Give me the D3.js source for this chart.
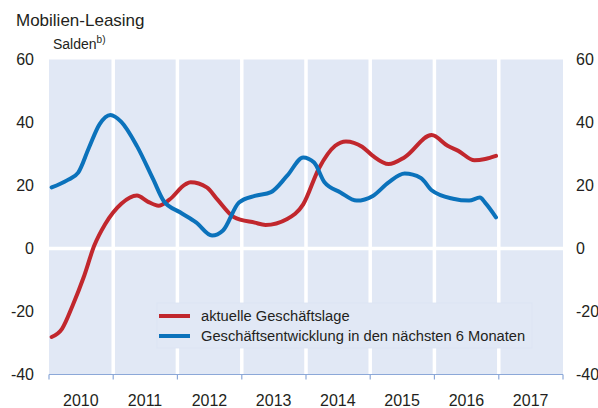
<!DOCTYPE html>
<html>
<head>
<meta charset="utf-8">
<script src="https://cdn.jsdelivr.net/npm/d3@7"></script>
<style>
  body { margin: 0; background: #fff; }
  svg { font-family: "Liberation Sans", Arial, sans-serif; display: block; }
  .tick-label { font-size: 16px; fill: #231f20; }
  .legend-label { font-size: 14.7px; fill: #231f20; }
</style>
</head>
<body>
<svg id="chart"></svg>
<script>
// years shown on the x axis
const years = [2010, 2011, 2012, 2013, 2014, 2015, 2016, 2017];
const yTicks = [60, 40, 20, 0, -20, -40];

// aktuelle Geschäftslage (red)
const lageMonths = ["2010-01","2010-03","2010-05","2010-07","2010-09","2010-11","2011-02","2011-05","2011-07","2011-09","2011-11",
  "2012-02","2012-03","2012-06","2012-08","2012-11","2013-03","2013-05","2013-09","2013-12","2014-03","2014-06","2014-08","2014-11",
  "2015-01","2015-04","2015-07","2015-12","2016-03","2016-05","2016-08","2016-10","2016-12"];
const lageValues = [-28.1,-25.5,-18,-9.3,1,7.7,14.2,16.8,14.9,13.6,15.5,
  20.4,21,19.4,15.5,10,8.2,7.5,9.4,14,25.5,32.6,34,32.3,
  29.4,26.8,29,36,32.6,31,28,28.4,29.4];

// Geschäftsentwicklung in den nächsten 6 Monaten (blue)
const erwMonths = ["2010-01","2010-04","2010-06","2010-08","2010-10","2010-12","2011-02","2011-05","2011-08","2011-10",
  "2012-01","2012-04","2012-07","2012-09","2012-12","2013-03","2013-06","2013-09","2013-12","2014-02","2014-04","2014-07","2014-10",
  "2015-01","2015-04","2015-07","2015-10","2015-12","2016-04","2016-07","2016-09","2016-10","2016-12"];
const erwValues = [19.4,21.7,24.1,32,39.5,42.4,40.2,32.5,22,15,
  11.5,8.3,4.1,5.7,14.6,16.7,17.9,23.1,28.9,27.3,21,17.8,15.2,
  16.7,21,23.8,22.4,18.5,15.8,15.2,16.2,14.5,9.9];

const seriesNames = ["aktuelle Geschäftslage", "Geschäftsentwicklung in den nächsten 6 Monaten"];
const seriesColors = ["#c1272d", "#0b72bb"];

const width = 598, height = 408;
const margin = {top: 59.5, right: 35, bottom: 33.5, left: 49};
const innerW = width - margin.left - margin.right;
const innerH = height - margin.top - margin.bottom;

const parseMonth = d3.timeParse("%Y-%m");
const toPoints = (months, values) => months.map((m, i) => ({
  date: d3.timeDay.offset(parseMonth(m), 15),
  value: values[i]
}));
const series = [toPoints(lageMonths, lageValues), toPoints(erwMonths, erwValues)];

const svg = d3.select('#chart')
  .attr('width', width)
  .attr('height', height);

const chart = svg.append('g')
  .attr('transform', `translate(${margin.left},${margin.top})`);

const xScale = d3.scaleTime()
  .domain([new Date(2010, 0, 1), new Date(2018, 0, 1)])
  .range([0, innerW]);

const yScale = d3.scaleLinear()
  .domain([-40, 60])
  .range([innerH, 0]);

// background bands, one per year, white gaps between them
chart.append('g')
  .selectAll('rect')
  .data(years)
  .join('rect')
    .attr('x', d => xScale(new Date(d, 0, 1)) + (d === years[0] ? 0 : 1.75))
    .attr('y', 0)
    .attr('width', d => xScale(new Date(d + 1, 0, 1)) - xScale(new Date(d, 0, 1)) - (d === years[0] ? 1.75 : 3.5) + (d === years[years.length - 1] ? 1.75 : 0))
    .attr('height', innerH)
    .attr('fill', '#e1e8f5');

// white zero line
chart.append('line')
  .attr('x1', 0)
  .attr('x2', innerW)
  .attr('y1', yScale(0))
  .attr('y2', yScale(0))
  .attr('stroke', '#fff')
  .attr('stroke-width', 3.5);

// bottom axis line with year ticks
const axisG = chart.append('g')
  .attr('transform', `translate(0,${innerH})`);
axisG.append('line')
  .attr('x1', 0).attr('x2', innerW)
  .attr('stroke', '#8ca8d8').attr('stroke-width', 1.2);
axisG.selectAll('line.tk')
  .data(years.concat([years[years.length - 1] + 1]))
  .join('line')
    .attr('class', 'tk')
    .attr('x1', d => xScale(new Date(d, 0, 1)))
    .attr('x2', d => xScale(new Date(d, 0, 1)))
    .attr('y1', 0).attr('y2', 5)
    .attr('stroke', '#8ca8d8').attr('stroke-width', 1.2);
axisG.selectAll('text')
  .data(years)
  .join('text')
    .attr('class', 'tick-label')
    .attr('x', d => xScale(new Date(d, 6, 1)))
    .attr('y', 31.5)
    .attr('text-anchor', 'middle')
    .text(d => d);

// y labels on both sides
chart.append('g').selectAll('text')
  .data(yTicks)
  .join('text')
    .attr('class', 'tick-label')
    .attr('x', -15)
    .attr('y', d => yScale(d))
    .attr('dy', '0.36em')
    .attr('text-anchor', 'end')
    .text(d => d);
chart.append('g').selectAll('text')
  .data(yTicks)
  .join('text')
    .attr('class', 'tick-label')
    .attr('x', innerW + 13)
    .attr('y', d => yScale(d))
    .attr('dy', '0.36em')
    .attr('text-anchor', 'start')
    .text(d => d);

// lines
const line = d3.line()
  .x(d => xScale(d.date))
  .y(d => yScale(d.value))
  .curve(d3.curveMonotoneX);

chart.append('g').selectAll('path')
  .data(series)
  .join('path')
    .attr('d', line)
    .attr('fill', 'none')
    .attr('stroke', (d, i) => seriesColors[i])
    .attr('stroke-width', 4)
    .attr('stroke-linejoin', 'round')
    .attr('stroke-linecap', 'round');

// legend box covering the white gaps
const legend = svg.append('g')
  .attr('transform', 'translate(157,303)');
legend.append('rect')
  .attr('width', 375)
  .attr('height', 45)
  .attr('fill', '#e1e8f5')
  .attr('stroke', '#dbe3f2')
  .attr('stroke-width', 0.8);
const items = legend.selectAll('g.item')
  .data(seriesNames)
  .join('g')
    .attr('class', 'item')
    .attr('transform', (d, i) => `translate(0,${13 + i * 20})`);
items.append('line')
  .attr('x1', 2).attr('x2', 33)
  .attr('stroke', (d, i) => seriesColors[i])
  .attr('stroke-width', 4);
items.append('text')
  .attr('class', 'legend-label')
  .attr('x', 44)
  .attr('y', 5)
  .text(d => d);

// titles
svg.append('text')
  .attr('x', 16)
  .attr('y', 26)
  .style('font-size', '17px')
  .style('fill', '#231f20')
  .text('Mobilien-Leasing');
const sub = svg.append('text')
  .attr('x', 53)
  .attr('y', 49)
  .style('font-size', '14px')
  .style('fill', '#231f20')
  .text('Salden');
sub.append('tspan')
  .attr('dy', -6)
  .style('font-size', '10px')
  .text('b)');
</script>
</body>
</html>
